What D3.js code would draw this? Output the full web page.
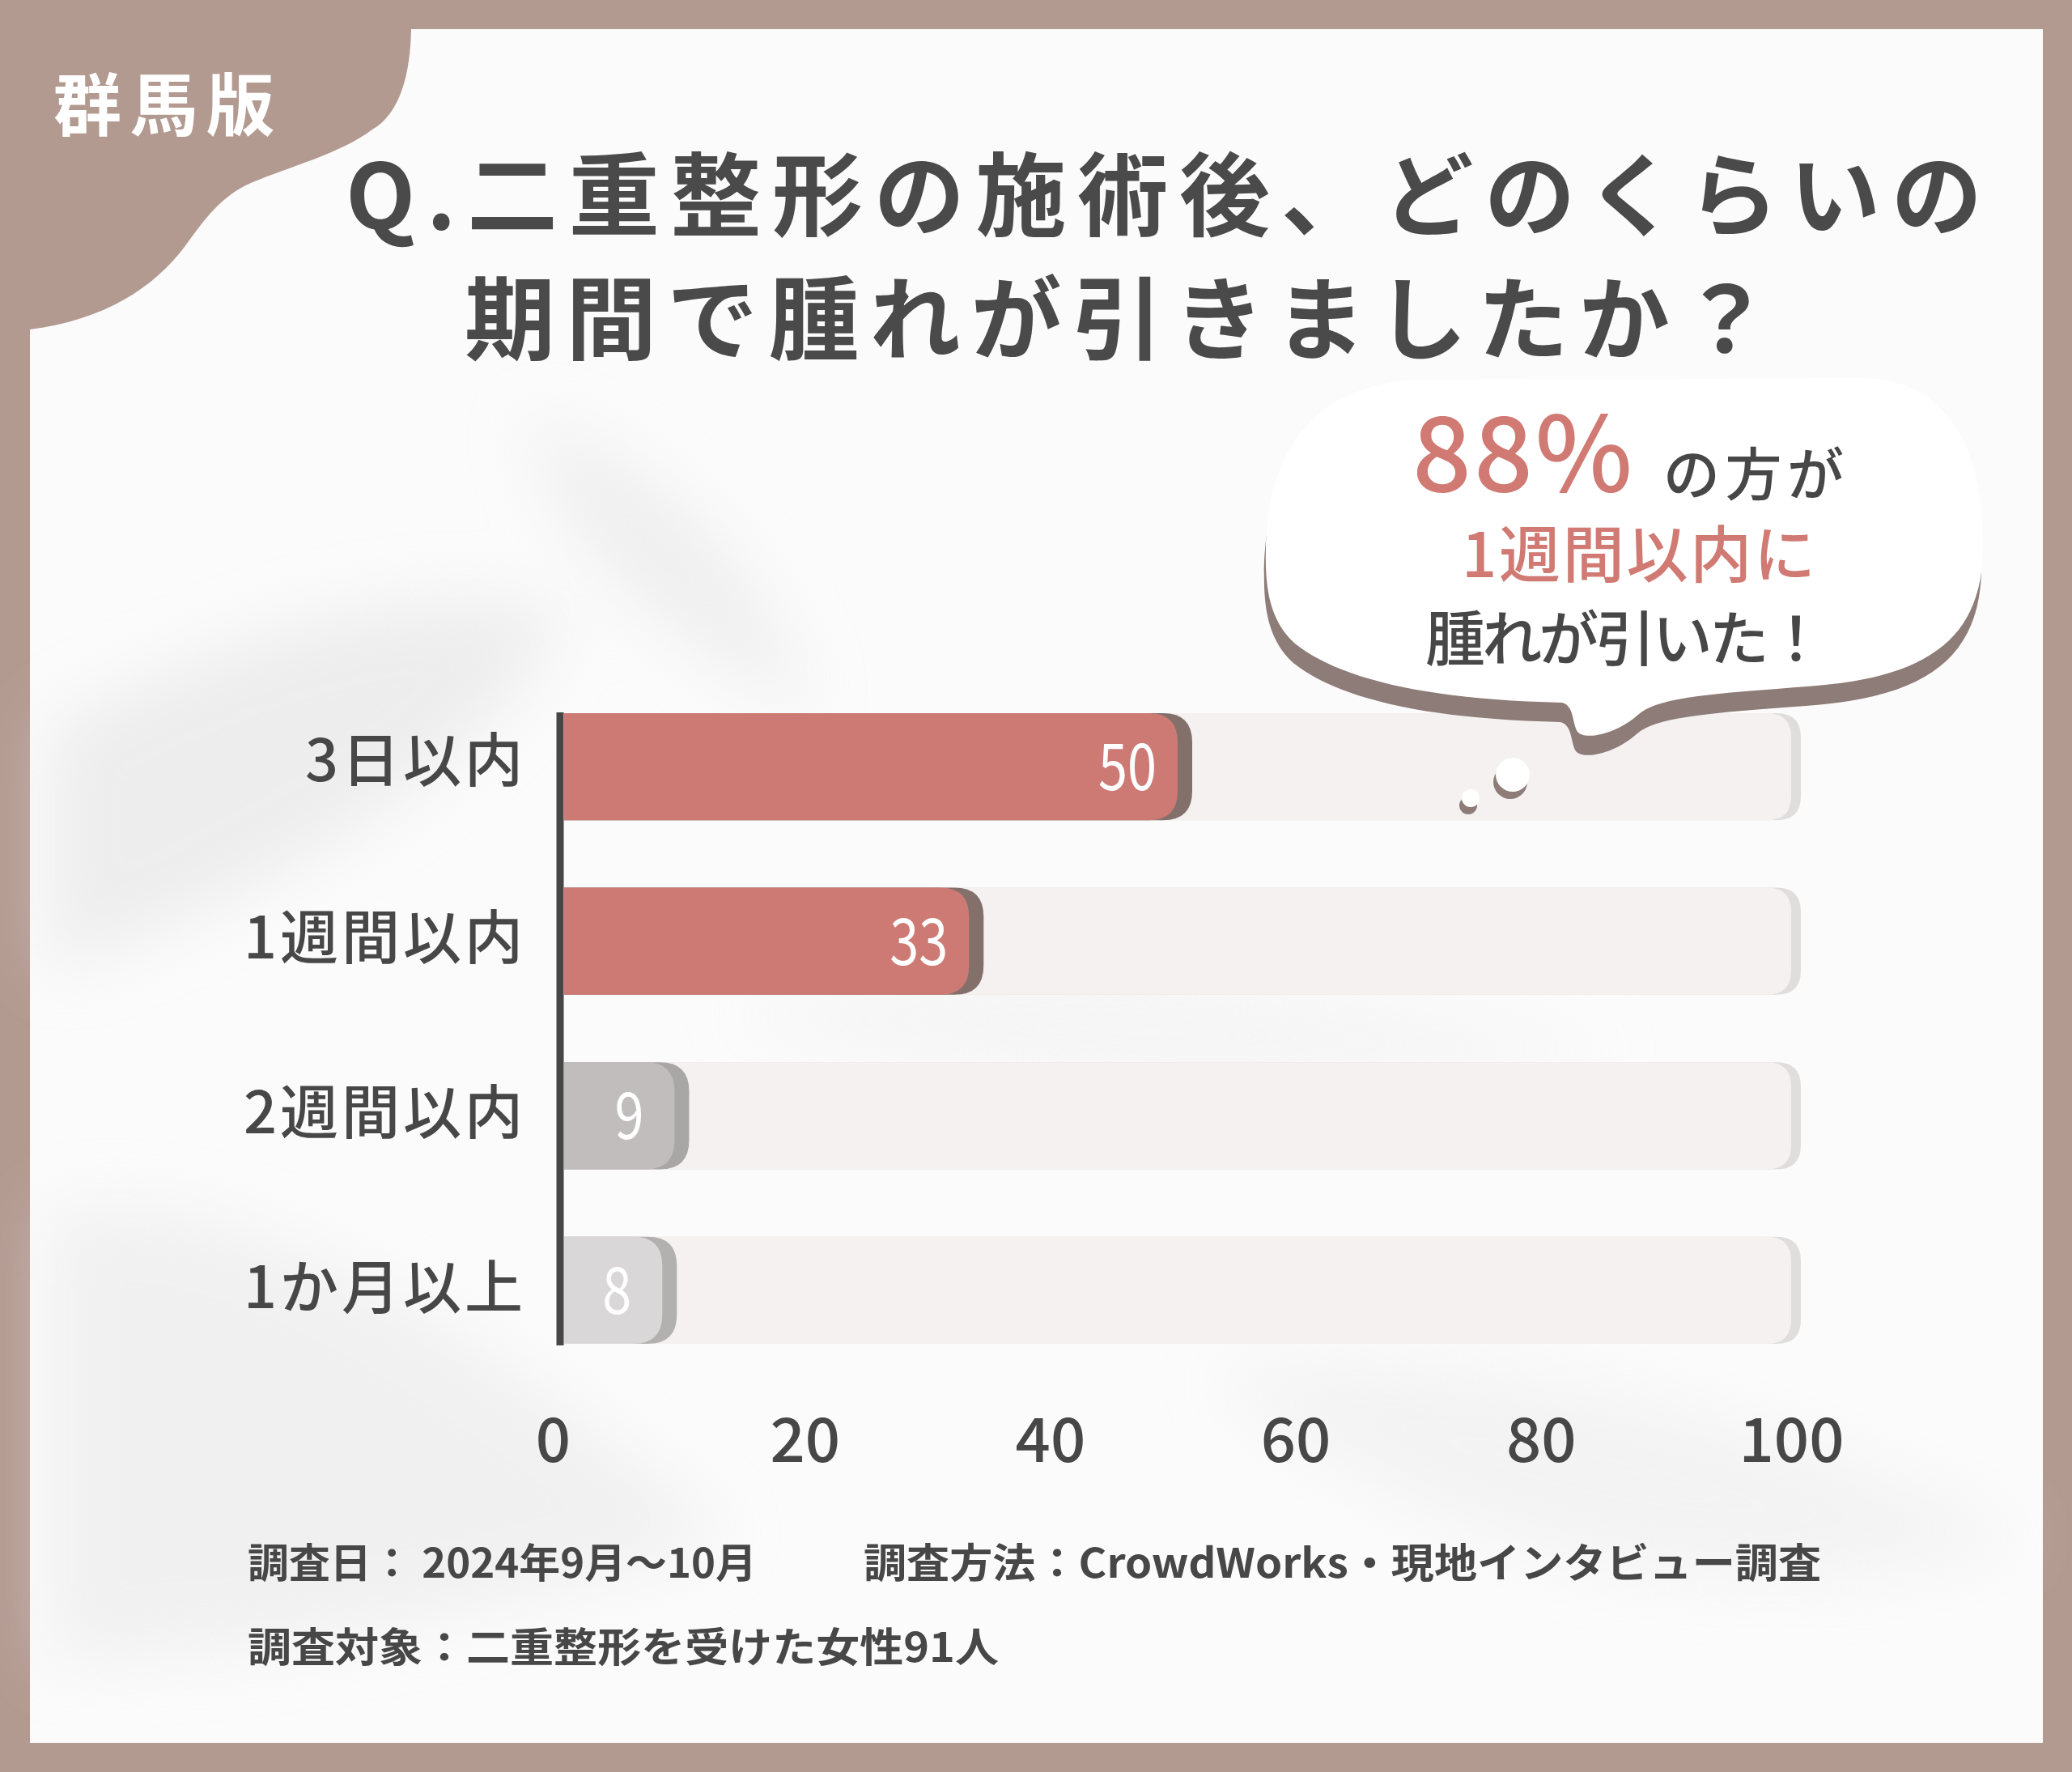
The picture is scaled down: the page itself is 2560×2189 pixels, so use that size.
<!DOCTYPE html>
<html>
<head>
<meta charset="utf-8">
<script src="https://cdn.jsdelivr.net/npm/d3@7"></script>
<style>
  body { margin: 0; background: #b39a91; }
  svg { display: block; }
</style>
</head>
<body>
<div id="wrapper"></div>
<script>
// data
const categories = ["3日以内", "1週間以内", "2週間以内", "1か月以上"];
const values = [50, 33, 9, 8];
const xTicks = [0, 20, 40, 60, 80, 100];
const titleLines = ["Q.二重整形の施術後、どのくらいの", "期間で腫れが引きましたか？"];
const badge = "群馬版";
const calloutBig = "88%";
const calloutLines = ["の方が", "1週間以内に", "腫れが引いた！"];
const footerLines = ["調査日： 2024年9月～10月", "調査方法：CrowdWorks・現地インタビュー調査", "調査対象：二重整形を受けた女性91人"];

// styles
const barFill = ["#ce7a74", "#ce7a74", "#c0bdbc", "#d9d7d7"];
const barShade = ["#83706b", "#83706b", "#a9a7a6", "#b3b1b0"];
const ink = "#474747";
const salmon = "#d07a73";
const font = "'Noto Sans CJK JP', 'Noto Sans', sans-serif";

const dimentions = {
    width: 2560,
    height: 2189,
    panel: { left: 37, top: 36, right: 2524, bottom: 2153 }
};

const wrapper = d3.select("#wrapper")
    .append("svg")
    .attr("width", dimentions.width)
    .attr("height", dimentions.height)
    .style("font-family", font);

const defs = wrapper.append("defs");
defs.append("filter").attr("id", "blur")
    .attr("x", "-50%").attr("y", "-50%").attr("width", "200%").attr("height", "200%")
    .append("feGaussianBlur").attr("stdDeviation", 40);
defs.append("filter").attr("id", "soft")
    .append("feGaussianBlur").attr("stdDeviation", 3);

// frame + panel
wrapper.append("rect")
    .attr("width", dimentions.width).attr("height", dimentions.height)
    .attr("fill", "#b39a91");
const p = dimentions.panel;
wrapper.append("rect")
    .attr("x", p.left).attr("y", p.top)
    .attr("width", p.right - p.left).attr("height", p.bottom - p.top)
    .attr("fill", "#fbfbfb");

// faint marble texture
const haze = wrapper.append("g").attr("filter", "url(#blur)").attr("opacity", 0.55);
haze.append("path").attr("d", "M60,900 C250,800 500,700 700,760 C600,950 350,1100 60,1200 Z").attr("fill", "#e2e2e2");
haze.append("path").attr("d", "M60,1500 C300,1450 600,1650 900,1900 C600,2000 300,2050 60,2050 Z").attr("fill", "#e8e8e8");
haze.append("path").attr("d", "M650,520 C800,560 950,700 1000,880 C850,800 700,700 650,520 Z").attr("fill", "#e4e4e4");
haze.append("path").attr("d", "M1500,1700 C1800,1650 2200,1750 2500,1900 C2200,2000 1800,1950 1500,1700 Z").attr("fill", "#ececec");
haze.append("path").attr("d", "M900,1250 C1200,1180 1600,1220 2000,1300 C1600,1350 1200,1340 900,1250 Z").attr("fill", "#efefef");

// corner badge
wrapper.append("path")
    .attr("d", "M37,36 L508,36 C507,90 495,140 460,160 C420,190 360,205 310,226 C270,244 250,275 228,305 C190,355 130,395 37,407 Z")
    .attr("fill", "#b39a91");
wrapper.append("text")
    .attr("x", 66).attr("y", 124)
    .attr("dominant-baseline", "central")
    .attr("textLength", 273).attr("lengthAdjust", "spacing")
    .attr("font-size", 84).attr("font-weight", 700)
    .attr("fill", "#ffffff")
    .text(badge);

// title
const titlePos = [{ x: 427, y: 234, w: 2022 }, { x: 574, y: 387, w: 1614 }];
wrapper.selectAll(".title")
    .data(titleLines)
    .join("text")
    .attr("class", "title")
    .attr("x", (d, i) => titlePos[i].x)
    .attr("y", (d, i) => titlePos[i].y)
    .attr("textLength", (d, i) => titlePos[i].w)
    .attr("lengthAdjust", "spacing")
    .attr("dominant-baseline", "central")
    .attr("font-size", 112).attr("font-weight", 700)
    .attr("fill", "#4a4a4a")
    .text(d => d);

// scales
const xScale = d3.scaleLinear()
    .domain([0, 100])
    .range([697, 2213]);

const yScale = d3.scaleBand()
    .domain(categories)
    .range([881, 1660])
    .paddingInner(0.387)
    .paddingOuter(0);

const bounds = wrapper.append("g");

function roundRight(x0, x1, y, h, r) {
    r = Math.min(r, (x1 - x0), h / 2);
    return `M${x0},${y} L${x1 - r},${y} Q${x1},${y} ${x1},${y + r} L${x1},${y + h - r} Q${x1},${y + h} ${x1 - r},${y + h} L${x0},${y + h} Z`;
}

const rows = categories.map((c, i) => ({ cat: c, val: values[i], i }));
const bh = yScale.bandwidth();

// background tracks
bounds.selectAll(".trackShade")
    .data(rows).join("path")
    .attr("d", d => roundRight(xScale(0), xScale(100) + 12, yScale(d.cat), bh, 30))
    .attr("fill", "#e0dedd");
bounds.selectAll(".track")
    .data(rows).join("path")
    .attr("d", d => roundRight(xScale(0), xScale(100), yScale(d.cat), bh, 30))
    .attr("fill", "#f4f1f0");

// value bars: shaded cap then fill
bounds.selectAll(".barShade")
    .data(rows).join("path")
    .attr("d", d => roundRight(xScale(0), xScale(d.val) + 18, yScale(d.cat), bh, 36))
    .attr("fill", d => barShade[d.i]);
bounds.selectAll(".bar")
    .data(rows).join("path")
    .attr("d", d => roundRight(xScale(0), xScale(d.val), yScale(d.cat), bh, 36))
    .attr("fill", d => barFill[d.i]);

bounds.selectAll(".valueLabel")
    .data(rows).join("text")
    .attr("x", d => xScale(d.val) - (d.val > 20 ? 26 : 38))
    .attr("y", d => yScale(d.cat) + bh / 2 + 29)
    .attr("text-anchor", "end")
    .attr("font-size", 80)
    .attr("fill", "#ffffff")
    .attr("textLength", d => String(d.val).length * 36)
    .attr("lengthAdjust", "spacingAndGlyphs")
    .text(d => d.val);

// y axis: vertical line + category labels
const yAxisGenerator = d3.axisLeft(yScale).tickSize(0).tickSizeOuter(0).tickPadding(42);
const yAxis = bounds.append("g")
    .attr("transform", `translate(${xScale(0) - 5},0)`)
    .call(yAxisGenerator);
yAxis.select(".domain")
    .attr("stroke", "#464646").attr("stroke-width", 9)
    .attr("d", `M0,${yScale.range()[0] - 1}V${yScale.range()[1] + 2}`);
yAxis.selectAll(".tick text")
    .attr("font-family", font)
    .attr("font-size", 72).attr("font-weight", 500)
    .attr("fill", ink)
    .attr("letter-spacing", 4)
    .attr("dy", (d, i) => i === 0 ? "0.25em" : "0.3em");

// x axis labels
const xAxisGenerator = d3.axisBottom(xScale).tickValues(xTicks).tickSize(0).tickPadding(0);
const xAxis = bounds.append("g")
    .attr("transform", "translate(0,1752)")
    .call(xAxisGenerator);
xAxis.select(".domain").remove();
xAxis.selectAll(".tick text")
    .attr("font-family", font)
    .attr("font-size", 76).attr("font-weight", 500)
    .attr("fill", ink)
    .attr("dx", d => d === 0 ? -14 : (d === 100 ? 0 : -6));

// speech bubble
const bubble = wrapper.append("g");
const bubblePath = "M1564,700 C1560,560 1620,472 1760,469 L2300,467 C2410,468 2452,560 2450,680 C2448,790 2380,838 2233,848 C2130,856 2050,860 2025,882 C2000,905 1962,915 1950,905 C1942,896 1946,872 1930,868 C1750,864 1650,835 1600,795 C1572,770 1565,735 1564,700 Z";
bubble.append("path")
    .attr("d", bubblePath)
    .attr("transform", "translate(-2,24)")
    .attr("fill", "#8d7c77");
bubble.append("path")
    .attr("d", bubblePath)
    .attr("fill", "#ffffff");

// thought dots
const dots = [{ x: 1869, y: 957, r: 21 }, { x: 1817, y: 986, r: 11 }];
bubble.selectAll(".dotShade").data(dots).join("circle")
    .attr("cx", d => d.x - 3).attr("cy", d => d.y + 9).attr("r", d => d.r)
    .attr("fill", "#8d7c77");
bubble.selectAll(".dot").data(dots).join("circle")
    .attr("cx", d => d.x).attr("cy", d => d.y).attr("r", d => d.r)
    .attr("fill", "#ffffff");

bubble.append("text")
    .attr("x", 1745).attr("y", 607)
    .attr("textLength", 272).attr("lengthAdjust", "spacing")
    .attr("font-size", 128).attr("font-weight", 500)
    .attr("fill", salmon)
    .text(calloutBig);

const calloutPos = [
    { x: 2055, y: 581, w: 223, size: 70, color: ink },
    { x: 1806, y: 680, w: 437, size: 76, color: salmon },
    { x: 1761, y: 783, w: 495, size: 74, color: ink }
];
bubble.selectAll(".callout")
    .data(calloutLines).join("text")
    .attr("x", (d, i) => calloutPos[i].x)
    .attr("y", (d, i) => calloutPos[i].y)
    .attr("textLength", (d, i) => calloutPos[i].w)
    .attr("lengthAdjust", "spacing")
    .attr("dominant-baseline", "central")
    .attr("font-size", (d, i) => calloutPos[i].size)
    .attr("font-weight", 500)
    .attr("fill", (d, i) => calloutPos[i].color)
    .text(d => d);

// footer
const footerPos = [
    { x: 306, y: 1927, w: 629 },
    { x: 1067, y: 1927, w: 1183 },
    { x: 306, y: 2031, w: 928 }
];
wrapper.selectAll(".footer")
    .data(footerLines).join("text")
    .attr("x", (d, i) => footerPos[i].x)
    .attr("y", (d, i) => footerPos[i].y)
    .attr("textLength", (d, i) => footerPos[i].w)
    .attr("lengthAdjust", "spacingAndGlyphs")
    .attr("dominant-baseline", "central")
    .attr("font-size", 50).attr("font-weight", 700)
    .attr("fill", ink)
    .text(d => d);
</script>
</body>
</html>
